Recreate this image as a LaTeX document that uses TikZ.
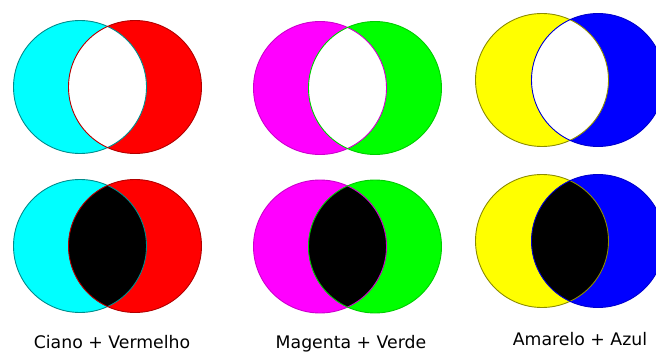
\documentclass[tikz,border=0pt]{standalone}
\usepackage{fontspec}
\setmainfont{DejaVu Sans}
\definecolor{cy}{RGB}{0,255,255}
\definecolor{rd}{RGB}{255,0,0}
\definecolor{mg}{RGB}{255,0,255}
\definecolor{gr}{RGB}{0,255,0}
\definecolor{yl}{RGB}{255,255,0}
\definecolor{bl}{RGB}{0,0,255}
\begin{document}
\begin{tikzpicture}[x=1pt,y=-1pt,
  lbl/.style={font=\fontsize{17.3}{20}\selectfont, text=black, inner sep=0pt, anchor=base},
  rim/.style={line width=0.9pt}]
\useasboundingbox (0,0) rectangle (656,353);
\fill[white] (0,0) rectangle (656,353);
\def\R{66.5}
% pair macro: #1 left center, #2 right center, #3 left color, #4 right color, #5 lens, #6 left rim, #7 right rim
\newcommand{\venpair}[7]{%
  \fill[#3] #1 circle (\R);
  \fill[#4] #2 circle (\R);
  \begin{scope}
    \clip #1 circle (\R);
    \fill[#5] #2 circle (\R);
  \end{scope}
  \draw[rim,#6] #1 circle (\R);
  \draw[rim,#7] #2 circle (\R);
}
% top row
\venpair{(80,87)}{(135,87)}{cy}{rd}{white}{cy!55!black}{rd!70!black}
\venpair{(320,88)}{(375,88)}{mg}{gr}{white}{mg!80!black}{gr!80!black}
\venpair{(542,80)}{(598,80)}{yl}{bl}{white}{yl!55!black}{bl!80!black}
% bottom row
\venpair{(80,246)}{(135,246)}{cy}{rd}{black}{cy!55!black}{rd!70!black}
\venpair{(320,246.5)}{(375,246.5)}{mg}{gr}{black}{mg!80!black}{gr!80!black}
\venpair{(542,241)}{(598,241)}{yl}{bl}{black}{yl!55!black}{bl!80!black}
% labels
\node[lbl] (l1) at (112,348.5) {Ciano + Vermelho};
\node[lbl] (l2) at (351,348) {Magenta + Verde};
\node[lbl] (l3) at (580,345) {Amarelo + Azul};
\end{tikzpicture}
\end{document}
